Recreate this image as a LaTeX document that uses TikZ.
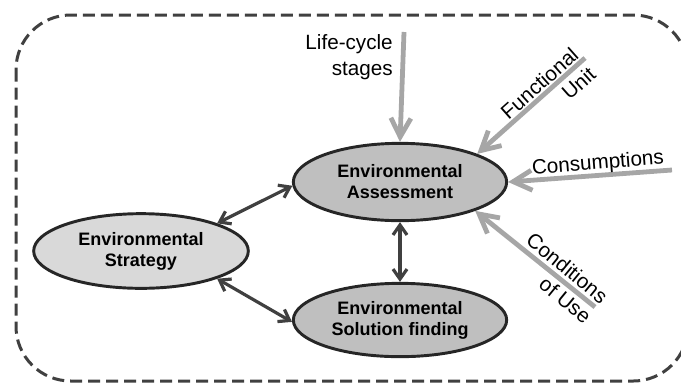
\documentclass[tikz,border=0pt]{standalone}
\usepackage{fontspec}
\setmainfont{Liberation Sans}
\usetikzlibrary{shapes.geometric,arrows.meta}
\definecolor{darkline}{HTML}{404040}
\definecolor{inputgray}{HTML}{A6A6A6}
\definecolor{fillA}{HTML}{BFBFBF}
\definecolor{fillB}{HTML}{D9D9D9}
\tikzset{block/.style={ellipse, draw=black!85, line width=2.2pt, fill=fillA, minimum width=160pt, minimum height=58pt, inner sep=0pt, align=center, font=\fontsize{13.5}{15.75}\selectfont\bfseries},
  link/.style={darkline, line width=2.4pt, {Straight Barb[length=7.5pt,width=10.5pt]}-{Straight Barb[length=7.5pt,width=10.5pt]}},
  input/.style={inputgray, line width=3.6pt, -{Straight Barb[length=14pt,width=15pt]}},
  lbl/.style={inner sep=0pt, align=right, font=\fontsize{15.5}{19.5}\selectfont}}

\begin{document}
\begin{tikzpicture}[x=0.75pt,y=-0.75pt]
  \begin{scope}
  \clip (0,0) rectangle (681,383);
  % frame
  \draw[darkline, line width=2.25pt, dash pattern=on 9pt off 4.5pt, rounded corners=41pt] (16,15) rectangle (688,381);
  % the three ellipses
  \node[block] (assess) at (400,182) {Environmental\\Assessment};
  \node[block, fill=fillB, minimum width=161pt, minimum height=56pt] (strat) at (141,251) {Environmental\\Strategy};
  \node[block, minimum height=55pt] (sol) at (400,320) {Environmental\\Solution finding};
  \draw[link] (strat.20) -- (assess.182);
  \draw[link] (strat.-20) -- (sol.181);
  \draw[link] (assess.south) -- (sol.north);
  % inputs
  \coordinate (lc) at (404,32);
  \coordinate (fu) at (585,58);
  \coordinate (cs) at (672,170);
  \coordinate (cu) at (595,307);
  \draw[input] (lc) -- (assess.north);
  \draw[input] (fu) -- (assess.20);
  \draw[input] (cs) -- (assess.0);
  \draw[input] (cu) -- (assess.-21);
  \node[lbl, anchor=east] (lct) at (393,57) {Life-cycle\\stages};
  \node[lbl, rotate=41.6] (fut) at (548,93) {Functional\\Unit};
  \node[lbl, rotate=4.6] (cst) at (598,164) {Consumptions};
  \node[lbl, rotate=-39.3] (cut) at (559,278) {Conditions\\of Use};
  \end{scope}
  \pgfresetboundingbox
  \useasboundingbox (0,0) rectangle (681,383);
\end{tikzpicture}
\end{document}
